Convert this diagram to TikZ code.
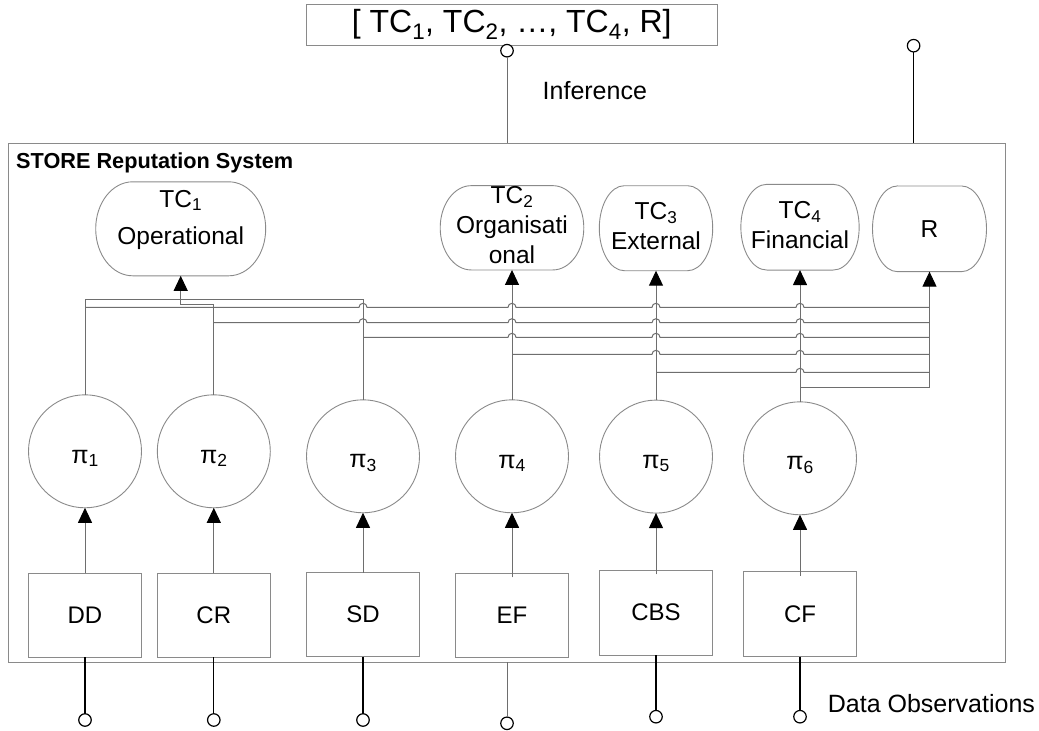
\documentclass[tikz,border=0pt]{standalone}
\usepackage{fontspec}
\setmainfont{Liberation Sans}
\usetikzlibrary{arrows.meta}

\definecolor{wiregray}{HTML}{6E6E6E}
\definecolor{edgegray}{HTML}{8A8A8A}

\newcommand\setfs[2]{\fontsize{#1}{#2}\selectfont}

% outline of a capsule-shaped node: name, corner x radius, corner y radius
\newcommand\capsule[3]{%
  \draw[shapeline] ([xshift=#2pt]#1.north west) -- ([xshift=-#2pt]#1.north east)
    arc[start angle=-90,end angle=90,x radius=#2,y radius=#3]
    -- ([xshift=#2pt]#1.south west)
    arc[start angle=90,end angle=270,x radius=#2,y radius=#3] -- cycle;}

% horizontal bus line with hops over the listed columns
\newcommand\busline[4]{%
  \draw[wire] (#1) \foreach \h in {#3} { -- (\h-4,#2) arc[start angle=180,end angle=360,radius=4] } -- (#4);}

\begin{document}
\begin{tikzpicture}[x=1pt,y=-1pt,
  shapeline/.style={draw=edgegray, line width=0.9pt},
  wire/.style={draw=wiregray, line width=1pt},
  blackwire/.style={draw=black, line width=1.3pt},
  arr/.style={wire, -{Triangle[width=14pt,length=15pt,black]}},
  capbox/.style 2 args={rectangle, inner sep=0pt, outer sep=0pt, minimum width=#1pt, minimum height=#2pt},
  captext/.style={align=center, inner sep=0pt, font=\setfs{24.5}{30}},
  pinode/.style={circle, shapeline, fill=white, minimum size=113pt, inner sep=0pt, outer sep=0pt},
  pilabel/.style={inner sep=0pt, font=\setfs{25}{28}},
  srcbox/.style 2 args={rectangle, shapeline, fill=white, inner sep=0pt, outer sep=0pt,
    minimum width=#1pt, minimum height=#2pt, font=\setfs{24}{28}},
  smallcirc/.style={circle, draw=black, line width=1.2pt, fill=white, minimum size=12.5pt, inner sep=0pt, outer sep=0pt},
  plain/.style={inner sep=0pt, anchor=west}
]
\useasboundingbox (0,0) rectangle (1039,731);

% system frame and result vector
\node[rectangle, shapeline, inner sep=0pt, outer sep=0pt, minimum width=996.7pt, minimum height=519pt] (sys) at (506.7,402.8) {};
\node[plain, font=\bfseries\setfs{21.7}{26}] (title) at (16,163.3) {STORE Reputation System};
\node[rectangle, shapeline, fill=white, inner sep=0pt, outer sep=0pt, minimum width=411.5pt, minimum height=41pt,
  font=\setfs{32}{36}] (vec) at (511.7,24.5) {[ TC\textsubscript{1}, TC\textsubscript{2}, …, TC\textsubscript{4}, R]};

% trust-characteristic capsules
\node[capbox={170}{94}] (tc1) at (180.7,228.8) {};
\node[capbox={143.6}{84.3}] (tc2) at (512,227.8) {};
\node[capbox={113.4}{85}] (tc3) at (656,228.2) {};
\node[capbox={118.3}{85.7}] (tc4) at (800,227.2) {};
\node[capbox={114}{85.7}] (r) at (929.5,228.8) {};
\capsule{tc1}{37}{47}
\capsule{tc2}{31}{42.15}
\capsule{tc3}{25}{42.5}
\capsule{tc4}{26}{42.85}
\capsule{r}{25}{42.85}
\node[captext, font=\setfs{24.5}{37}] (tc1t) at (180.7,219.5) {TC\textsubscript{1}\\Operational};
\node[captext] (tc2t) at (512,225.2) {TC\textsubscript{2}\\Organisati\\onal};
\node[captext] (tc3t) at (656,226.4) {TC\textsubscript{3}\\External};
\node[captext] (tc4t) at (800,225) {TC\textsubscript{4}\\Financial};
\node[captext] (rt) at (929.5,229.3) {R};

% estimator circles
\node[pinode] (p1) at (85,451.3) {};
\node[pinode] (p2) at (213.8,451.3) {};
\node[pinode] (p3) at (363,456.3) {};
\node[pinode] (p4) at (512,456.3) {};
\node[pinode] (p5) at (656,456.6) {};
\node[pinode] (p6) at (800,458.3) {};
\node[pilabel] (p1t) at ([yshift=-7pt]p1.center) {π\textsubscript{1}};
\node[pilabel] (p2t) at ([yshift=-7pt]p2.center) {π\textsubscript{2}};
\node[pilabel] (p3t) at ([yshift=-7pt]p3.center) {π\textsubscript{3}};
\node[pilabel] (p4t) at ([yshift=-7pt]p4.center) {π\textsubscript{4}};
\node[pilabel] (p5t) at ([yshift=-7pt]p5.center) {π\textsubscript{5}};
\node[pilabel] (p6t) at ([yshift=-7pt]p6.center) {π\textsubscript{6}};

% data source boxes
\node[srcbox={113.3}{84}] (dd) at (85,615.3) {DD};
\node[srcbox={113}{84}] (cr) at (213.8,615.3) {CR};
\node[srcbox={113.4}{84}] (sd) at (363,614.7) {SD};
\node[srcbox={113}{84}] (ef) at (512,615.3) {EF};
\node[srcbox={113.3}{84.7}] (cbs) at (656,612.7) {CBS};
\node[srcbox={113}{85}] (cf) at (800,614.2) {CF};

% sources feed estimators
\draw[arr] (dd.north) -- (p1.south);
\draw[arr] (cr.north) -- (p2.south);
\draw[arr] (sd.north) -- (p3.south);
\draw[arr] ([yshift=-4pt]ef.north) -- (p4.south);
\draw[arr] ([yshift=-4pt]cbs.north) -- (p5.south);
\draw[arr] ([yshift=-4pt]cf.north) -- (p6.south);

% junction points of the wiring
\coordinate (t0) at (p3.north |- 0,299);
\coordinate (k1) at (tc1.south |- 0,304.3);
\coordinate (b1s) at (p1.north |- 0,307.3);  \coordinate (b1e) at (r.south |- 0,307.3);
\coordinate (b2s) at (p2.north |- 0,322.7);  \coordinate (b2e) at (r.south |- 0,322.7);
\coordinate (b3s) at (p3.north |- 0,337.3);  \coordinate (b3e) at (r.south |- 0,337.3);
\coordinate (b4s) at (p4.north |- 0,354.3);  \coordinate (b4e) at (r.south |- 0,354.3);
\coordinate (b5s) at (p5.north |- 0,372.3);  \coordinate (b5e) at (r.south |- 0,372.3);
\coordinate (b6s) at (p6.north |- 0,387.3);  \coordinate (b6e) at (r.south |- 0,387.3);

% estimators to characteristics
\draw[wire] (p1.north) |- (t0) -- (p3.north);
\draw[arr] (p2.north) |- (k1) -- (tc1.south);
\draw[arr] (p4.north) -- (tc2.south);
\draw[arr] (p5.north) -- (tc3.south);
\draw[arr] (p6.north) -- (tc4.south);
\busline{b1s}{307.3}{363,512,656,800}{b1e}
\busline{b2s}{322.7}{363,512,656,800}{b2e}
\busline{b3s}{337.3}{512,656,800}{b3e}
\busline{b4s}{354.3}{656,800}{b4e}
\busline{b5s}{372.3}{800}{b5e}
\draw[wire] (b6s) -- (b6e);
\draw[arr] (b6e) -- (r.south);

% inference outputs
\node[smallcirc] (o1) at (507,50.7) {};
\node[smallcirc] (o2) at (913.6,45.7) {};
\draw[wire] (o1.south) -- (o1 |- sys.north);
\draw[blackwire] (o2.south) -- (o2 |- sys.north);
\node[plain, font=\setfs{25}{30}] (inf) at (542.5,90.7) {Inference};

% data observation inputs
\node[smallcirc] (i1) at (85,720) {};
\node[smallcirc] (i2) at (213.8,720) {};
\node[smallcirc] (i3) at (363,720) {};
\node[smallcirc] (i4) at (507,723.3) {};
\node[smallcirc] (i5) at (656,716.7) {};
\node[smallcirc] (i6) at (800,716.7) {};
\draw[blackwire] (dd.south) -- (i1.north);
\draw[blackwire] (cr.south) -- (i2.north);
\draw[blackwire] (sd.south) -- (i3.north);
\draw[wire] (i4 |- sys.south) -- (i4.north);
\draw[blackwire] (cbs.south) -- (i5.north);
\draw[blackwire] (cf.south) -- (i6.north);
\node[plain, font=\setfs{25}{30}] (obs) at (827.7,703.3) {Data Observations};
\end{tikzpicture}
\end{document}
